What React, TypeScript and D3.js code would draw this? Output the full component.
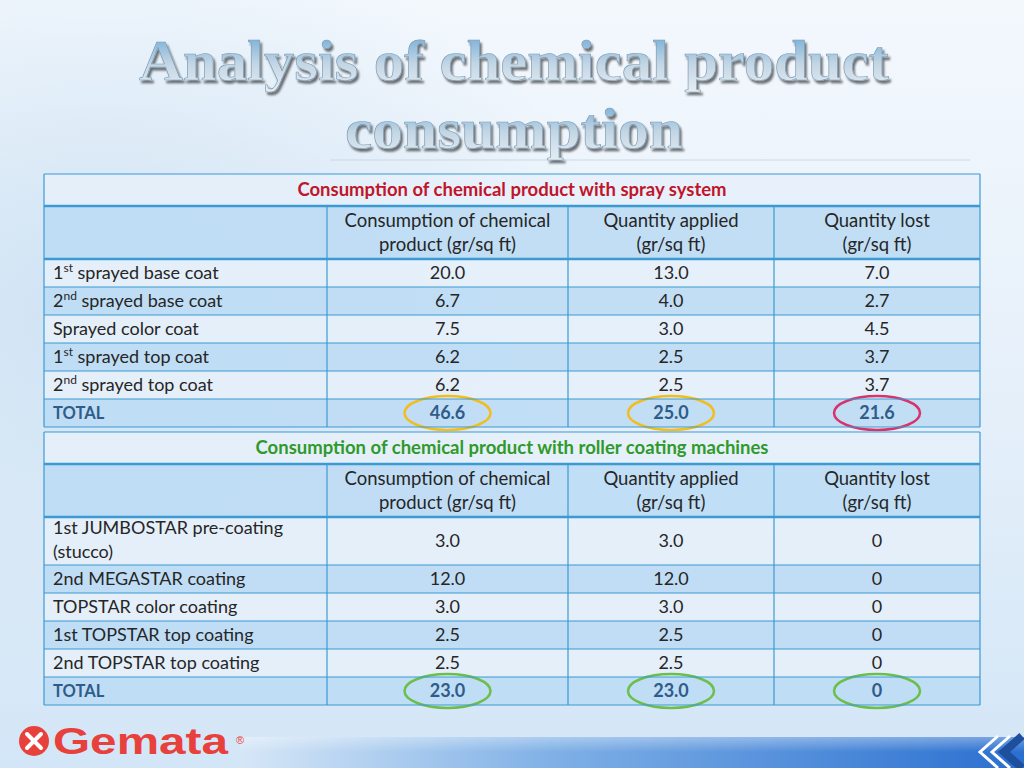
import React from "react";
import * as d3 from "d3";

// table data
const columnHeaders = [
  ["Consumption of chemical", "product (gr/sq ft)"],
  ["Quantity applied", "(gr/sq ft)"],
  ["Quantity lost", "(gr/sq ft)"],
];

const sprayLabels = [
  { num: "1", sup: "st", text: " sprayed base coat" },
  { num: "2", sup: "nd", text: " sprayed base coat" },
  { num: "", sup: "", text: "Sprayed color coat" },
  { num: "1", sup: "st", text: " sprayed top coat" },
  { num: "2", sup: "nd", text: " sprayed top coat" },
];
const sprayConsumption = [20.0, 6.7, 7.5, 6.2, 6.2];
const sprayApplied = [13.0, 4.0, 3.0, 2.5, 2.5];
const sprayLost = [7.0, 2.7, 4.5, 3.7, 3.7];
const sprayTotals = ["46.6", "25.0", "21.6"];
const sprayCircleColors = ["#f2bd1d", "#f2bd1d", "#d8336b"];

const rollerLabels = [
  ["1st JUMBOSTAR pre-coating", "(stucco)"],
  ["2nd MEGASTAR coating"],
  ["TOPSTAR color coating"],
  ["1st TOPSTAR top coating"],
  ["2nd TOPSTAR top coating"],
];
const rollerConsumption = [3.0, 12.0, 3.0, 2.5, 2.5];
const rollerApplied = [3.0, 12.0, 3.0, 2.5, 2.5];
const rollerLost = [0, 0, 0, 0, 0];
const rollerTotals = ["23.0", "23.0", "0"];
const rollerCircleColors = ["#6cbf4a", "#6cbf4a", "#6cbf4a"];

const W = 1024;
const H = 768;
const FONT = "Lato, 'Open Sans', sans-serif";
const FS = 18;
const colEdges = [44, 327, 568, 774, 980];
const LIGHT = "#e6f0fa";
const DARK = "#bcdcf4";
const LINE = "#3b9ad2";

const fmt = (v: number) => (v === 0 ? "0" : d3.format(".1f")(v));

type Row = {
  label: React.ReactNode;
  values: string[];
  h: number;
  fill: string;
  total?: boolean;
};

function Table({
  y0,
  title,
  titleColor,
  rows,
  circles,
}: {
  y0: number;
  title: string;
  titleColor: string;
  rows: Row[];
  circles: string[];
}) {
  const x = d3.scaleOrdinal<number, number>().domain([0, 1, 2, 3, 4]).range(colEdges);
  const titleH = 32;
  const headH = 53;
  const left = colEdges[0];
  const right = colEdges[4];
  let y = y0 + titleH + headH;
  const rowYs = rows.map((r) => {
    const top = y;
    y += r.h;
    return top;
  });
  const bottom = y;
  return (
    <g>
      <rect x={left} y={y0} width={right - left} height={titleH} fill={LIGHT} fillOpacity={0.85} />
      <text
        x={(left + right) / 2}
        y={y0 + titleH / 2 + 6}
        textAnchor="middle"
        fontFamily={FONT}
        fontWeight={700}
        fontSize={18.5}
        fill={titleColor}
      >
        {title}
      </text>
      <rect x={left} y={y0 + titleH} width={right - left} height={headH} fill={DARK} fillOpacity={0.9} />
      {columnHeaders.map((hd, i) => {
        const cx = (x(i + 1) + x(i + 2)) / 2;
        return (
          <text key={i} textAnchor="middle" fontFamily={FONT} fontSize={FS + 0.5} fill="#262626">
            <tspan x={cx} y={y0 + titleH + 21}>{hd[0]}</tspan>
            <tspan x={cx} y={y0 + titleH + 45}>{hd[1]}</tspan>
          </text>
        );
      })}
      {rows.map((r, ri) => {
        const top = rowYs[ri];
        const cy = top + r.h / 2 + 6;
        return (
          <g key={ri}>
            <rect x={left} y={top} width={right - left} height={r.h} fill={r.fill} fillOpacity={0.9} />
            {r.total ? (
              <text x={left + 9} y={cy} fontFamily={FONT} fontWeight={700} fontSize={16.5} fill="#2f5c8a">
                TOTAL
              </text>
            ) : (
              r.label
            )}
            {r.values.map((v, ci) => {
              const cx = (x(ci + 1) + x(ci + 2)) / 2;
              return (
                <text
                  key={ci}
                  x={cx}
                  y={cy}
                  textAnchor="middle"
                  fontFamily={FONT}
                  fontSize={FS}
                  fontWeight={r.total ? 700 : 400}
                  fill={r.total ? "#2f5c8a" : "#262626"}
                >
                  {v}
                </text>
              );
            })}
            {r.total &&
              circles.map((c, ci) => {
                const cx = (x(ci + 1) + x(ci + 2)) / 2;
                return (
                  <ellipse
                    key={"c" + ci}
                    cx={cx}
                    cy={top + r.h / 2}
                    rx={43}
                    ry={17}
                    fill="none"
                    stroke={c}
                    strokeWidth={2.5}
                  />
                );
              })}
          </g>
        );
      })}
      {/* grid lines */}
      {[y0, y0 + titleH, ...rowYs, bottom].map((yy, i) => (
        <line
          key={"h" + i}
          x1={left}
          x2={right}
          y1={yy}
          y2={yy}
          stroke={LINE}
          strokeWidth={i === 1 || i === 2 ? 2.5 : 1.2}
        />
      ))}
      <line x1={left} x2={left} y1={y0} y2={bottom} stroke={LINE} strokeWidth={1.2} />
      <line x1={right} x2={right} y1={y0} y2={bottom} stroke={LINE} strokeWidth={1.2} />
      {[1, 2, 3].map((i) => (
        <line key={"v" + i} x1={x(i)} x2={x(i)} y1={y0 + titleH} y2={bottom} stroke={LINE} strokeWidth={1.2} />
      ))}
    </g>
  );
}

export default function App() {
  const rowFill = (i: number) => (i % 2 === 0 ? LIGHT : DARK);

  // spray rows, labels with superscripts
  let yy = 174 + 32 + 53;
  const sprayRows: Row[] = sprayLabels.map((l, i) => {
    const h = 28;
    const cy = yy + h / 2 + 6;
    yy += h;
    return {
      label: (
        <text x={53} y={cy} fontFamily={FONT} fontSize={FS} fill="#262626">
          {l.num}
          {l.sup && (
            <tspan fontSize={12} dy={-7}>
              {l.sup}
            </tspan>
          )}
          <tspan dy={l.sup ? 7 : 0}>{l.text}</tspan>
        </text>
      ),
      values: [fmt(sprayConsumption[i]), fmt(sprayApplied[i]), fmt(sprayLost[i])],
      h,
      fill: rowFill(i),
    };
  });
  sprayRows.push({ label: null, values: sprayTotals, h: 28, fill: DARK, total: true });

  let ry = 432 + 32 + 53;
  const rollerRows: Row[] = rollerLabels.map((l, i) => {
    const h = l.length > 1 ? 48 : 28;
    const top = ry;
    ry += h;
    return {
      label: (
        <text fontFamily={FONT} fontSize={FS} fill="#262626">
          {l.map((s, k) => (
            <tspan key={k} x={53} y={top + (l.length > 1 ? 17 + k * 24 : h / 2 + 6)}>
              {s}
            </tspan>
          ))}
        </text>
      ),
      values: [fmt(rollerConsumption[i]), fmt(rollerApplied[i]), fmt(rollerLost[i])],
      h,
      fill: rowFill(i),
    };
  });
  rollerRows.push({ label: null, values: rollerTotals, h: 28, fill: DARK, total: true });

  return (
    <svg width={W} height={H} style={{ position: "absolute", left: 0, top: 0 }}>
      <defs>
        <linearGradient id="bg" x1="0" y1="0" x2="0" y2="1">
          <stop offset="0" stopColor="#f3f8fd" />
          <stop offset="0.5" stopColor="#e6f0fa" />
          <stop offset="1" stopColor="#d3e6f7" />
        </linearGradient>
        <radialGradient id="cloud" cx="0.1" cy="0.4" r="0.5">
          <stop offset="0" stopColor="#c9dff2" stopOpacity={0.8} />
          <stop offset="1" stopColor="#c9dff2" stopOpacity={0} />
        </radialGradient>
        <linearGradient id="titleFill" x1="0" y1="0" x2="0" y2="1">
          <stop offset="0" stopColor="#6aa8d6" />
          <stop offset="0.55" stopColor="#c4d6e4" />
          <stop offset="1" stopColor="#e6edf3" />
        </linearGradient>
        <linearGradient id="bar" x1="0" y1="0" x2="1" y2="0">
          <stop offset="0" stopColor="#d6e7f7" />
          <stop offset="0.4" stopColor="#7fb0e6" />
          <stop offset="1" stopColor="#2a6fd0" />
        </linearGradient>
        <linearGradient id="barV" x1="0" y1="0" x2="0" y2="1">
          <stop offset="0" stopColor="#ffffff" stopOpacity={0.35} />
          <stop offset="1" stopColor="#ffffff" stopOpacity={0} />
        </linearGradient>
        <filter id="shadow" x="-5%" y="-20%" width="110%" height="140%">
          <feGaussianBlur in="SourceAlpha" stdDeviation="1.2" />
          <feOffset dx="2" dy="3" result="o" />
          <feComponentTransfer>
            <feFuncA type="linear" slope="0.55" />
          </feComponentTransfer>
          <feMerge>
            <feMergeNode />
            <feMergeNode in="SourceGraphic" />
          </feMerge>
        </filter>
      </defs>
      <rect width={W} height={H} fill="url(#bg)" />
      <rect width={W} height={H} fill="url(#cloud)" />
      <line x1={330} x2={970} y1={160} y2={160} stroke="#c9d9e6" strokeWidth={1} />

      <g filter="url(#shadow)">
        <text
          x={514}
          y={80}
          textAnchor="middle"
          fontFamily="'Liberation Serif', 'DejaVu Serif', serif"
          fontWeight={700}
          fontSize={56}
          fill="url(#titleFill)"
          stroke="#7a9ab3"
          strokeWidth={0.6}
          textLength={750}
          lengthAdjust="spacingAndGlyphs"
        >
          Analysis of chemical product
        </text>
        <text
          x={514}
          y={148}
          textAnchor="middle"
          fontFamily="'Liberation Serif', 'DejaVu Serif', serif"
          fontWeight={700}
          fontSize={56}
          fill="url(#titleFill)"
          stroke="#7a9ab3"
          strokeWidth={0.6}
          textLength={338}
          lengthAdjust="spacingAndGlyphs"
        >
          consumption
        </text>
      </g>

      <Table
        y0={174}
        title="Consumption of chemical product with spray system"
        titleColor="#c0152a"
        rows={sprayRows}
        circles={sprayCircleColors}
      />
      <Table
        y0={432}
        title="Consumption of chemical product with roller coating machines"
        titleColor="#2f9a2a"
        rows={rollerRows}
        circles={rollerCircleColors}
      />

      {/* footer bar */}
      <rect x={240} y={737} width={W - 240} height={31} fill="url(#bar)" />
      <rect x={240} y={737} width={W - 240} height={15} fill="url(#barV)" />
      {[0, 1, 2].map((i) => (
        <path
          key={i}
          d={`M${998 + i * 12},736 L${980 + i * 12},752 L${998 + i * 12},768`}
          fill="none"
          stroke={i === 2 ? "#1d4f9c" : "#ffffff"}
          strokeWidth={i === 2 ? 8 : 3}
        />
      ))}

      {/* logo */}
      <circle cx={34} cy={741} r={15} fill="#e8413c" />
      <path d="M27,734 L41,748 M41,734 L27,748" stroke="#ffffff" strokeWidth={4} strokeLinecap="round" />
      <text x={53} y={754} fontFamily="'Liberation Sans', Arial, sans-serif" fontWeight={700} fontSize={36} fill="#e8413c" textLength={175} lengthAdjust="spacingAndGlyphs">
        Gemata
      </text>
      <text x={236} y={744} fontFamily="'Liberation Sans', Arial, sans-serif" fontSize={11} fill="#e8413c">
        ®
      </text>
    </svg>
  );
}
